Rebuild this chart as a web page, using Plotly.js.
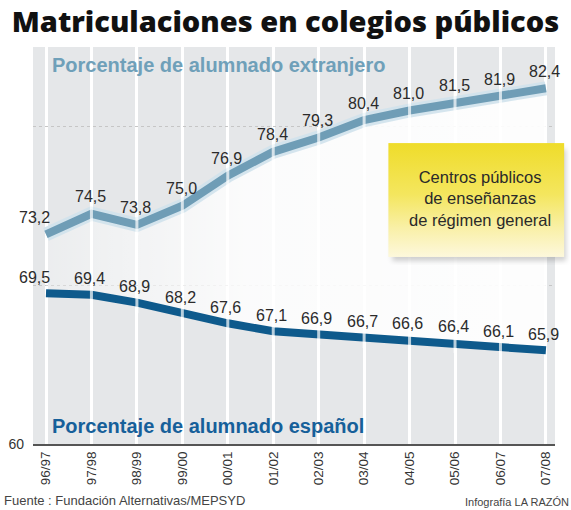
<!DOCTYPE html>
<html><head><meta charset="utf-8">
<script src="https://cdn.plot.ly/plotly-3.0.1.min.js"></script>
<style>html,body{margin:0;padding:0;background:#fff;}#chart{width:571px;height:510px;}</style>
</head><body><div id="chart"></div>
<script>
// ---- data ----
const cursos = ['96/97','97/98','98/99','99/00','00/01','01/02','02/03','03/04','04/05','05/06','06/07','07/08'];
const extranjero = [73.2,74.5,73.8,75.0,76.9,78.4,79.3,80.4,81.0,81.5,81.9,82.4];
const espanol = [69.5,69.4,68.9,68.2,67.6,67.1,66.9,66.7,66.6,66.4,66.1,65.9];
const tituloExtranjero = 'Porcentaje de alumnado extranjero';
const tituloEspanol = 'Porcentaje de alumnado español';
const notaTexto = 'Centros públicos<br>de enseñanzas<br>de régimen general';

const FONT = 'Liberation Sans, Arial, sans-serif';
const fmt = v => v.toFixed(1).replace('.', ',');
const breakSizes = cursos.map((c, i) => (i === 0 || i === cursos.length - 1) ? 0 : 15);

const traces = [
  { // white fade between the two lines
    x: cursos.concat([...cursos].reverse()),
    y: extranjero.concat([...espanol].reverse()),
    type: 'scatter', mode: 'none', fill: 'toself',
    fillgradient: {type: 'horizontal',
      colorscale: [[0, 'rgba(255,255,255,0.25)'], [0.4, 'rgba(255,255,255,0.85)'], [1, 'rgba(255,255,255,0.93)']]},
    hoverinfo: 'skip', showlegend: false
  },
  { // glow of the top line
    x: cursos, y: extranjero, type: 'scatter', mode: 'lines',
    line: {color: 'rgba(208,226,236,0.9)', width: 14},
    hoverinfo: 'skip', showlegend: false
  },
  {
    x: cursos, y: extranjero, type: 'scatter', mode: 'lines+markers',
    line: {color: '#6f9db6', width: 8},
    marker: {symbol: 'line-ns', size: breakSizes, color: 'white', line: {color: 'white', width: 3}},
    showlegend: false
  },
  {
    x: cursos, y: espanol, type: 'scatter', mode: 'lines+markers',
    line: {color: '#0e5a8c', width: 8},
    marker: {symbol: 'line-ns', size: breakSizes, color: 'white', line: {color: 'white', width: 3}},
    showlegend: false
  }
];

const labelFont = {family: FONT, size: 16, color: '#2b2b2b'};
const annotations = [];
extranjero.forEach((v, i) => annotations.push({
  x: cursos[i], y: v, xref: 'x', yref: 'y', text: fmt(v), showarrow: false,
  xshift: i === 0 ? -12 : -1, yshift: 17, font: labelFont
}));
espanol.forEach((v, i) => annotations.push({
  x: cursos[i], y: v, xref: 'x', yref: 'y', text: fmt(v), showarrow: false,
  xshift: i === 0 ? -12 : -2, yshift: 16, font: labelFont
}));
annotations.push(
  {xref: 'paper', yref: 'paper', x: 0.033, y: 0.955, xanchor: 'left', yanchor: 'middle',
   text: '<b>' + tituloExtranjero + '</b>', showarrow: false,
   font: {family: FONT, size: 20, color: '#6fa0b9'}},
  {xref: 'paper', yref: 'paper', x: 0.033, y: 0.045, xanchor: 'left', yanchor: 'middle',
   text: '<b>' + tituloEspanol + '</b>', showarrow: false,
   font: {family: FONT, size: 20, color: '#16609a'}},
  {xref: 'paper', yref: 'paper', x: 0.857, y: 0.618, xanchor: 'center', yanchor: 'middle',
   text: notaTexto, showarrow: false,
   font: {family: FONT, size: 16.5, color: '#2a2a2a'}},
  {xref: 'paper', yref: 'paper', x: -0.06, y: -0.165, xanchor: 'left', yanchor: 'bottom',
   text: 'Fuente : Fundación Alternativas/MEPSYD', showarrow: false,
   font: {family: FONT, size: 13, color: '#444'}},
  {xref: 'paper', yref: 'paper', x: 1.031, y: -0.165, xanchor: 'right', yanchor: 'bottom',
   text: 'Infografía LA RAZÓN', showarrow: false,
   font: {family: FONT, size: 11, color: '#444'}}
);

const noteSvg = "<svg xmlns='http://www.w3.org/2000/svg' width='184' height='124' viewBox='0 0 184 124'>" +
  "<defs><linearGradient id='g' x1='0' y1='0' x2='0' y2='1'>" +
  "<stop offset='0' stop-color='#efdc2a'/><stop offset='0.45' stop-color='#f4e65e'/>" +
  "<stop offset='0.75' stop-color='#f9f0a8'/><stop offset='1' stop-color='#fdf8dc'/></linearGradient>" +
  "<filter id='b'><feGaussianBlur stdDeviation='2.5'/></filter></defs>" +
  "<rect x='6' y='8' width='174' height='112' fill='rgba(0,0,0,0.18)' filter='url(#b)'/>" +
  "<rect x='2' y='2' width='176' height='114' fill='url(#g)'/></svg>";

const layout = {
  width: 571, height: 510,
  margin: {l: 33, r: 16, t: 47, b: 66, pad: 0},
  paper_bgcolor: '#ffffff', plot_bgcolor: '#e5e7e9',
  separators: ',.',
  title: {text: 'Matriculaciones en colegios públicos', xref: 'container', x: 0.5, xanchor: 'center',
          yref: 'container', y: 0.978, yanchor: 'top',
          font: {family: 'Open Sans, sans-serif', size: 29, weight: 800, color: '#111'}},
  xaxis: {type: 'category', range: [-0.286, 11.2], showgrid: true, gridcolor: '#ffffff', gridwidth: 3,
          showline: true, linecolor: '#555', linewidth: 2, ticks: '', tickangle: -90,
          tickfont: {family: FONT, size: 13.5, color: '#333'}, zeroline: false, fixedrange: true},
  yaxis: {range: [60, 85], tickvals: [60, 70, 80], ticktext: ['60', '', ''], showgrid: true,
          gridcolor: '#c6c6c6', griddash: 'dot', gridwidth: 1, zeroline: false, showline: false,
          ticks: '', ticklabelstandoff: 8, tickfont: {family: FONT, size: 14, color: '#333'}, fixedrange: true},
  annotations: annotations,
  images: [{source: 'data:image/svg+xml;charset=utf-8,' + encodeURIComponent(noteSvg),
            xref: 'paper', yref: 'paper', x: 0.677, y: 0.763, sizex: 0.352, sizey: 0.312,
            xanchor: 'left', yanchor: 'top', sizing: 'stretch', layer: 'above'}],
  showlegend: false
};

Plotly.newPlot('chart', traces, layout, {displayModeBar: false, staticPlot: true});
</script>
</body></html>
